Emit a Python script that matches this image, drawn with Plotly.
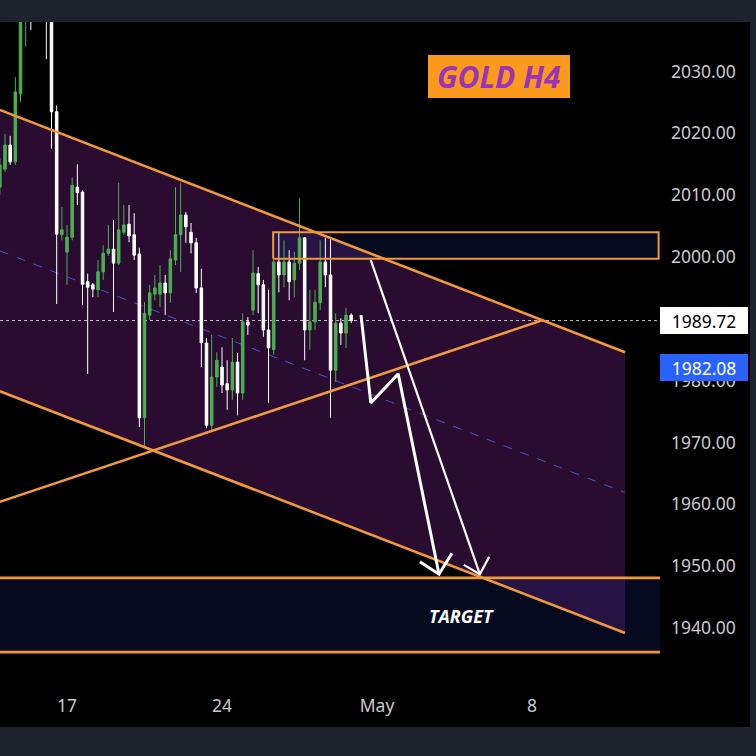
import plotly.graph_objects as go

# ---- data (x = H4 bar index, 0 = first bar of Mon 17 Apr, 30 bars per week) ----
bar_idx = list(range(-13, 56))
opens = [2011.3, 2014.2, 2018.1, 2015.4, 2026.4, 2041.0, 2045.0, 2042.0, 2046.0, 2043.0,
         2040.5, 2023.5, 2003.6, 2000.8, 2003.2, 2011.3, 2010.5, 1996.0, 1995.5, 1994.7,
         1997.6, 2000.6, 2001.3, 1999.0, 2004.0, 2005.3, 2003.6, 2000.5, 1974.0, 1990.6,
         1994.0, 1994.0, 1995.8, 1994.2, 1999.5, 2003.6, 2006.8, 2004.0, 2002.3, 1995.0,
         1986.1, 1972.8, 1980.6, 1982.2, 1979.5, 1978.5, 1983.0, 1978.0, 1989.5, 1991.4,
         1997.3, 1995.5, 1988.2, 1985.0, 1999.2, 1997.1, 1999.2, 1996.3, 1999.0, 2003.1,
         1988.2, 1989.5, 1992.6, 1999.2, 1997.1, 1981.7, 1989.3, 1987.7, 1990.6]
highs = [2016.0, 2019.9, 2019.6, 2029.1, 2044.0, 2048.0, 2048.5, 2049.0, 2048.0, 2045.0,
         2042.0, 2024.5, 2008.1, 2005.2, 2012.9, 2015.0, 2010.8, 1997.3, 1995.8, 1999.5,
         2001.9, 2005.2, 2006.0, 2012.0, 2008.4, 2008.4, 2007.1, 2001.5, 1992.7, 1995.5,
         1997.1, 1998.7, 1997.1, 2001.1, 2011.3, 2012.0, 2007.3, 2005.5, 2003.1, 1998.1,
         1986.9, 1987.4, 1984.6, 1985.4, 1983.3, 1986.9, 1984.5, 1990.9, 1990.3, 2001.1,
         1998.4, 1996.3, 1994.7, 1999.8, 2003.9, 2002.7, 2001.1, 2000.8, 2009.5, 2003.2,
         1994.7, 1994.7, 2002.7, 2003.1, 2003.2, 1990.9, 1990.1, 1991.8, 1990.9]
lows = [2010.0, 2013.8, 2014.9, 2014.9, 2025.1, 2034.0, 2036.7, 2039.5, 2039.0, 2032.0,
        2017.5, 1992.4, 2002.7, 1995.5, 2002.7, 2008.4, 1992.2, 1981.1, 1993.5, 1993.5,
        1996.3, 2000.2, 1991.1, 1998.7, 2003.6, 2002.4, 1999.5, 1972.5, 1969.1, 1989.8,
        1993.0, 1991.9, 1990.6, 1992.6, 1998.7, 1997.6, 2002.3, 2000.6, 1994.2, 1982.2,
        1972.3, 1972.0, 1979.0, 1978.0, 1975.3, 1976.9, 1974.4, 1976.9, 1987.4, 1990.6,
        1990.9, 1987.1, 1976.4, 1984.2, 1994.3, 1995.1, 1993.0, 1993.5, 1997.9, 1983.3,
        1985.0, 1988.2, 1991.4, 1995.1, 1974.0, 1979.8, 1985.8, 1985.3, 1989.3]
closes = [2014.9, 2018.1, 2015.4, 2026.7, 2041.0, 2045.0, 2042.0, 2046.0, 2043.0, 2040.5,
          2023.5, 2003.7, 2004.4, 2003.2, 2011.6, 2010.4, 1995.6, 1995.1, 1994.8, 1997.6,
          2000.6, 2001.3, 1999.0, 2004.4, 2005.2, 2003.4, 2000.3, 1974.0, 1990.9, 1994.2,
          1995.0, 1995.8, 1994.2, 1999.7, 2003.6, 2006.8, 2004.9, 2002.3, 1995.0, 1986.1,
          1972.8, 1980.6, 1983.3, 1979.3, 1978.5, 1983.0, 1978.0, 1989.5, 1989.0, 1997.4,
          1995.5, 1988.2, 1985.3, 1999.2, 1997.1, 1999.2, 1996.0, 1999.0, 2003.1, 1988.2,
          1989.5, 1992.7, 1999.2, 1997.1, 1981.7, 1989.3, 1987.7, 1990.6, 1989.72]

tick_pos = [0, 30, 60, 90]
tick_text = ["17", "24", "May", "8"]
price_ticks = [1940, 1950, 1960, 1970, 1980, 1990, 2000, 2010, 2020, 2030]

# drawings (bar index, price)
chan_x = [-13, 108]
chan_upper = [2023.8, 1984.6]
chan_lower = [1978.3, 1939.2]
chan_mid = [2001.0, 1961.9]
rise_x = [-13, 92.1]
rise_y = [1960.4, 1989.8]
res_x = [39.9, 114.5]
res_y = [1999.7, 2004.0]
tgt_x = [-20, 140]
tgt_y = [1936.1, 1948.1]
last_price = 1989.72
other_price = 1982.08
zig_x = [56.9, 58.8, 64.1, 72.0]
zig_y = [1990.6, 1976.4, 1981.1, 1948.7]
zig_head_x = [68.3, 72.0, 74.5]
zig_head_y = [1950.7, 1948.7, 1952.1]
str_x = [58.8, 79.9]
str_y = [1999.5, 1948.7]
str_head_x = [76.8, 79.9, 81.7]
str_head_y = [1950.2, 1948.7, 1951.5]

X_RANGE = [-12.97, 114.77]
ORANGE = "#f0993a"
ZONE = "rgba(30,45,140,0.22)"

chan_path = (f"M {chan_x[0]},{chan_upper[0]} L {chan_x[1]},{chan_upper[1]} "
             f"L {chan_x[1]},{chan_lower[1]} L {chan_x[0]},{chan_lower[0]} Z")

shapes = [
    # black chart frame
    dict(type="rect", xref="paper", yref="paper",
         x0=0, x1=750 / 660, y0=(690 - 727) / 668, y1=1,
         fillcolor="#000000", line=dict(width=0), layer="below"),
    # channel fill
    dict(type="path", xref="x", yref="y", path=chan_path,
         fillcolor="#290c30", line=dict(width=0), layer="below"),
    # target zone
    dict(type="rect", xref="x", yref="y", x0=tgt_x[0], x1=tgt_x[1], y0=tgt_y[0], y1=tgt_y[1],
         fillcolor=ZONE, line=dict(width=0), layer="below"),
    # resistance zone
    dict(type="rect", xref="x", yref="y", x0=res_x[0], x1=res_x[1], y0=res_y[0], y1=res_y[1],
         fillcolor=ZONE, line=dict(width=0), layer="below"),
    # midline
    dict(type="line", xref="x", yref="y", x0=chan_x[0], x1=chan_x[1], y0=chan_mid[0], y1=chan_mid[1],
         line=dict(color="rgba(80,90,230,0.85)", width=1, dash="dash"), layer="below"),
    # last price dotted line
    dict(type="line", xref="x", yref="y", x0=X_RANGE[0], x1=X_RANGE[1], y0=last_price, y1=last_price,
         line=dict(color="rgba(255,255,255,0.75)", width=1, dash="dot"), layer="below"),
]

fig = go.Figure()

# candles
fig.add_trace(go.Candlestick(
    x=bar_idx, open=opens, high=highs, low=lows, close=closes,
    increasing=dict(line=dict(color="#4caf50", width=1), fillcolor="#4caf50"),
    decreasing=dict(line=dict(color="#ffffff", width=1), fillcolor="#ffffff"),
    hoverinfo="skip", showlegend=False))

# orange lines
for xs, ys in [(chan_x, chan_upper), (chan_x, chan_lower), (rise_x, rise_y)]:
    fig.add_trace(go.Scatter(x=xs, y=ys, mode="lines", line=dict(color=ORANGE, width=2.6),
                             hoverinfo="skip", showlegend=False))
for yv in tgt_y:
    fig.add_trace(go.Scatter(x=tgt_x, y=[yv, yv], mode="lines", line=dict(color=ORANGE, width=2.6),
                             hoverinfo="skip", showlegend=False))
fig.add_trace(go.Scatter(
    x=[res_x[0], res_x[1], res_x[1], res_x[0], res_x[0]],
    y=[res_y[0], res_y[0], res_y[1], res_y[1], res_y[0]],
    mode="lines", line=dict(color=ORANGE, width=2), hoverinfo="skip", showlegend=False))

# arrows
for xs, ys, w in [(zig_x, zig_y, 3), (zig_head_x, zig_head_y, 3),
                  (str_x, str_y, 2.2), (str_head_x, str_head_y, 2.2)]:
    fig.add_trace(go.Scatter(x=xs, y=ys, mode="lines", line=dict(color="white", width=w),
                             hoverinfo="skip", showlegend=False))

fig.update_layout(
    width=756, height=756,
    margin=dict(l=0, r=96, t=22, b=66, pad=0),
    paper_bgcolor="#1e222d", plot_bgcolor="#000000",
    font=dict(family="Noto Sans", color="#c8cad0"),
    shapes=shapes,
    xaxis=dict(range=X_RANGE, tickvals=tick_pos, ticktext=tick_text,
               showgrid=False, zeroline=False, showline=False, ticks="",
               tickfont=dict(size=17.5, color="#c8cad0"),
               rangeslider=dict(visible=False), ticklabelstandoff=3),
    yaxis=dict(side="right", range=[1929.97, 2038.01], tickvals=price_ticks,
               tickformat=".2f", showgrid=False, zeroline=False, showline=False,
               ticks="", tickfont=dict(size=17.5, color="#c8cad0"),
               ticklabelstandoff=10),
    annotations=[
        dict(x=83.6, y=2029.2, xref="x", yref="y", text="<b><i>GOLD H4</i></b>",
             showarrow=False, font=dict(family="Open Sans", size=30, color="#9c34b8"),
             bgcolor="#fb9a1d", width=142, height=43, borderpad=0, borderwidth=0),
        dict(x=76.4, y=1941.9, xref="x", yref="y", text="<b><i>TARGET</i></b>",
             showarrow=False, font=dict(family="Open Sans", size=18, color="white")),
        dict(x=1, y=last_price, xref="paper", yref="y", xanchor="left", text="1989.72",
             showarrow=False, font=dict(family="Noto Sans", size=17.5, color="#000000"),
             bgcolor="#ffffff", width=88, height=27, borderpad=0, borderwidth=0),
        dict(x=1, y=other_price, xref="paper", yref="y", xanchor="left", text="1982.08",
             showarrow=False, font=dict(family="Noto Sans", size=17.5, color="#ffffff"),
             bgcolor="#2962ff", width=88, height=27, borderpad=0, borderwidth=0),
    ],
)

fig.write_html("out.html")
